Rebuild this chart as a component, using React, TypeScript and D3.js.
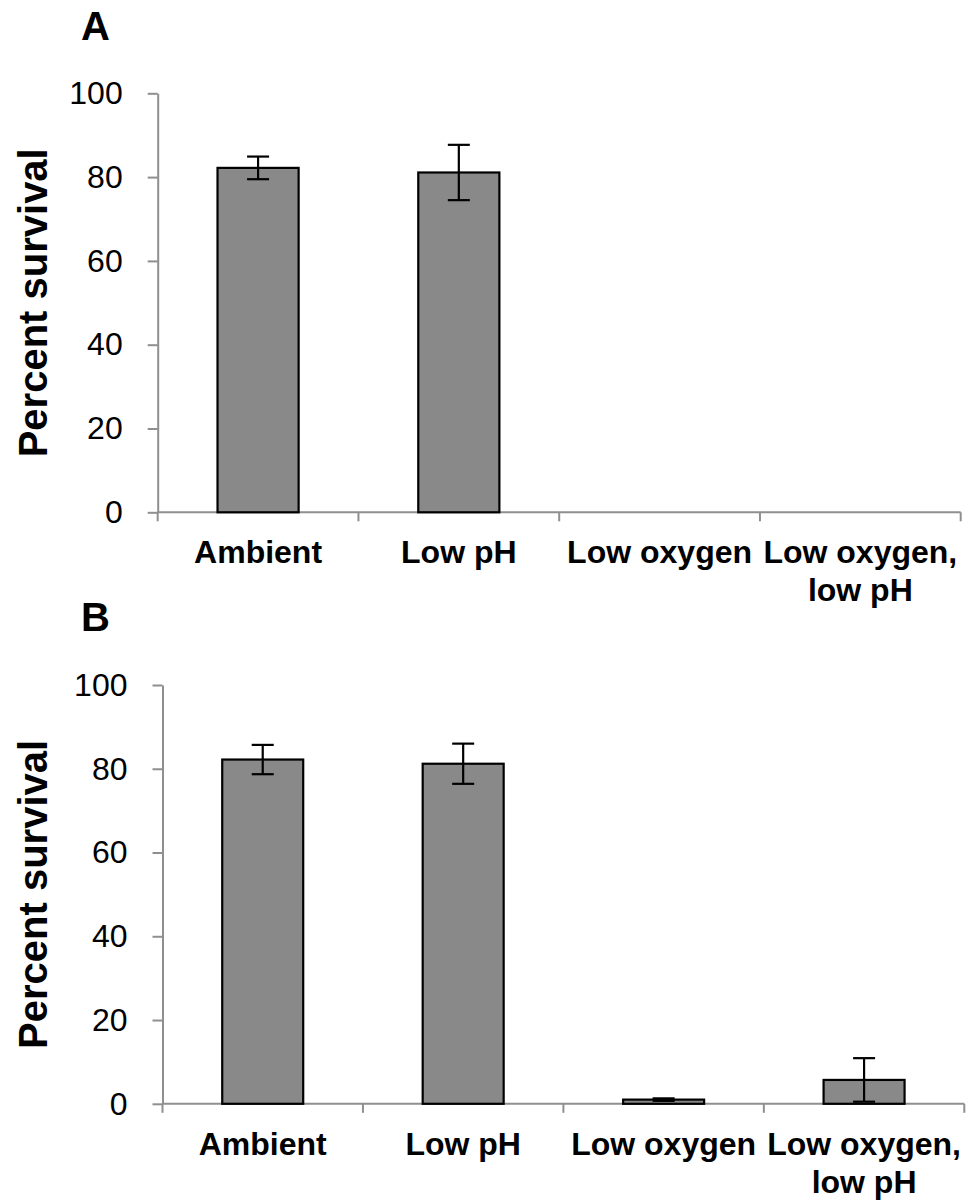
import React, { useEffect, useRef } from 'react';
import * as d3 from 'd3';

// Categories and tick values
const categories = ['Ambient', 'Low pH', 'Low oxygen', 'Low oxygen, low pH'];
const categoryLines = [['Ambient'], ['Low pH'], ['Low oxygen'], ['Low oxygen,', 'low pH']];
const yTicks = [0, 20, 40, 60, 80, 100];

// Panel A: percent survival and error
const survivalA = [82.2, 81.1, 0, 0];
const errorA = [2.7, 6.6, 0, 0];

// Panel B: percent survival and error
const survivalB = [82.2, 81.2, 1.0, 5.7];
const errorB = [3.5, 4.8, 0.3, 5.2];

const FONT = '"Liberation Sans", Arial, Helvetica, sans-serif';
const AXIS_COLOR = '#8f8f8f';
const BAR_COLOR = '#898989';

interface Panel {
  letter: string;
  values: number[];
  errors: number[];
  top: number;
  bottom: number;
  left: number;
  right: number;
  letterY: number;
}

const panels: Panel[] = [
  { letter: 'A', values: survivalA, errors: errorA, top: 93.3, bottom: 512.3, left: 157.7, right: 960.7, letterY: 40 },
  { letter: 'B', values: survivalB, errors: errorB, top: 685, bottom: 1103.8, left: 162.5, right: 964.3, letterY: 631 },
];

const App: React.FC = () => {
  const svgRef = useRef<SVGSVGElement>(null);

  useEffect(() => {
    const svg = d3.select(svgRef.current);
    svg.selectAll('*').remove();

    panels.forEach(p => {
      const g = svg.append('g');

      const x = d3.scaleBand<string>()
        .domain(categories)
        .range([p.left, p.right])
        .padding(0);

      const y = d3.scaleLinear()
        .domain([0, 100])
        .range([p.bottom, p.top]);

      const barWidth = x.bandwidth() * 0.404;

      // Panel letter
      g.append('text')
        .attr('x', 81)
        .attr('y', p.letterY)
        .style('font-family', FONT)
        .style('font-size', '40px')
        .style('font-weight', 'bold')
        .text(p.letter);

      // Y axis
      const yAxis = g.append('g')
        .attr('transform', `translate(${p.left},0)`)
        .call(
          d3.axisLeft(y)
            .tickValues(yTicks)
            .tickSize(10)
            .tickSizeOuter(0)
            .tickPadding(25)
            .tickFormat(d3.format('d'))
        );
      yAxis.select('.domain').attr('stroke', AXIS_COLOR).attr('stroke-width', 2);
      yAxis.selectAll('.tick line').attr('stroke', AXIS_COLOR).attr('stroke-width', 2);
      yAxis.selectAll('.tick text')
        .attr('fill', '#000')
        .style('font-family', FONT)
        .style('font-size', '32px');

      // Y axis title
      g.append('text')
        .attr('transform', `translate(47,${(p.top + p.bottom) / 2}) rotate(-90)`)
        .attr('text-anchor', 'middle')
        .style('font-family', FONT)
        .style('font-size', '40px')
        .style('font-weight', 'bold')
        .text('Percent survival');

      // X axis line with ticks between categories
      g.append('line')
        .attr('x1', p.left)
        .attr('x2', p.right)
        .attr('y1', y(0))
        .attr('y2', y(0))
        .attr('stroke', AXIS_COLOR)
        .attr('stroke-width', 2);

      const edges = categories.map(c => x(c) as number).concat([p.right]);
      g.selectAll('.xtick')
        .data(edges)
        .enter()
        .append('line')
        .attr('class', 'xtick')
        .attr('x1', d => d)
        .attr('x2', d => d)
        .attr('y1', y(0))
        .attr('y2', y(0) + 9)
        .attr('stroke', AXIS_COLOR)
        .attr('stroke-width', 2);

      // Category labels
      const labels = g.selectAll('.xlabel')
        .data(categories)
        .enter()
        .append('text')
        .attr('class', 'xlabel')
        .attr('text-anchor', 'middle')
        .style('font-family', FONT)
        .style('font-size', '32px')
        .style('font-weight', 'bold');

      labels.each(function (c, i) {
        d3.select(this)
          .selectAll('tspan')
          .data(categoryLines[i])
          .enter()
          .append('tspan')
          .attr('x', (x(c) as number) + x.bandwidth() / 2)
          .attr('y', (_, j) => y(0) + 51 + j * 38)
          .text(t => t);
      });

      // Bars
      const data = categories.map((c, i) => ({ cat: c, value: p.values[i], err: p.errors[i] }));
      const withValue = data.filter(d => d.value > 0);

      g.selectAll('.bar')
        .data(withValue)
        .enter()
        .append('rect')
        .attr('class', 'bar')
        .attr('x', d => (x(d.cat) as number) + (x.bandwidth() - barWidth) / 2)
        .attr('y', d => y(d.value))
        .attr('width', barWidth)
        .attr('height', d => y(0) - y(d.value))
        .attr('fill', BAR_COLOR)
        .attr('stroke', '#000')
        .attr('stroke-width', 2.2);

      // Error bars
      const capHalf = 11;
      const err = g.selectAll('.err')
        .data(withValue)
        .enter()
        .append('g')
        .attr('class', 'err')
        .attr('stroke', '#000')
        .attr('stroke-width', 2.2);

      err.append('line')
        .attr('x1', d => (x(d.cat) as number) + x.bandwidth() / 2)
        .attr('x2', d => (x(d.cat) as number) + x.bandwidth() / 2)
        .attr('y1', d => y(d.value + d.err))
        .attr('y2', d => y(d.value - d.err));

      err.append('line')
        .attr('x1', d => (x(d.cat) as number) + x.bandwidth() / 2 - capHalf)
        .attr('x2', d => (x(d.cat) as number) + x.bandwidth() / 2 + capHalf)
        .attr('y1', d => y(d.value + d.err))
        .attr('y2', d => y(d.value + d.err));

      err.append('line')
        .attr('x1', d => (x(d.cat) as number) + x.bandwidth() / 2 - capHalf)
        .attr('x2', d => (x(d.cat) as number) + x.bandwidth() / 2 + capHalf)
        .attr('y1', d => y(d.value - d.err))
        .attr('y2', d => y(d.value - d.err));
    });
  }, []);

  return (
    <svg
      ref={svgRef}
      width={975}
      height={1200}
      style={{ position: 'absolute', left: 0, top: 0, background: '#fff' }}
    />
  );
};

export default App;
